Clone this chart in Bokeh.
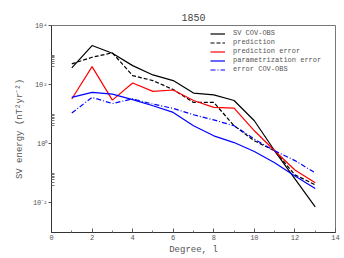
from bokeh.plotting import figure
from bokeh.models import Range1d, FixedTicker, CustomJSTickFormatter, Legend, LegendItem
from bokeh.embed import file_html
from bokeh.resources import INLINE

degree = [1, 2, 3, 4, 5, 6, 7, 8, 9, 10, 11, 12, 13]
sv_covobs = [368, 2100, 1150, 440, 213, 137, 52, 45, 29, 6.0, 0.58, 0.065, 0.0073]
prediction = [503, 842, 1190, 202, 137, 68, 25, 25, 4.1, 1.26, 0.58, 0.089, 0.041]
prediction_error = [32.7, 407, 30, 114, 59, 66, 29, 17, 16, 2.75, 0.58, 0.13, 0.048]
param_error = [37, 55, 48, 31, 19.4, 11.5, 4.07, 1.86, 1.1, 0.55, 0.23, 0.082, 0.031]
error_covobs = [11, 37, 23, 33, 22, 15.7, 9.6, 6.4, 4.07, 1.44, 0.58, 0.27, 0.104]

x_ticks = [0, 2, 4, 6, 8, 10, 12, 14]
y_ticks = [1e-2, 1, 1e2, 1e4]

FONT = "Liberation Mono"

p = figure(width=344, height=258, output_backend="svg", toolbar_location=None,
           x_range=Range1d(0, 14), y_range=Range1d(1e-3, 1e4), y_axis_type="log",
           title="1850", min_border_left=51, min_border_right=9,
           min_border_top=25, min_border_bottom=26)

p.title.align = "center"
p.title.text_font = FONT
p.title.text_font_size = "10px"
p.title.text_font_style = "normal"
p.title.text_color = "#444444"

p.xgrid.visible = False
p.ygrid.visible = False
p.outline_line_color = "#777777"
p.background_fill_color = "white"

minor = []
for e in [-2, 0, 2]:
    for k in [4, 5, 6, 7, 8, 9, 10]:
        minor.append(k * 10.0 ** e)

p.xaxis.ticker = FixedTicker(ticks=x_ticks, minor_ticks=[1, 3, 5, 7, 9, 11, 13])
p.yaxis.ticker = FixedTicker(ticks=y_ticks, minor_ticks=minor)
p.yaxis.formatter = CustomJSTickFormatter(code="""
const sup = {'-':'\u207b','0':'\u2070','1':'\u00b9','2':'\u00b2','3':'\u00b3','4':'\u2074'};
const e = Math.round(Math.log10(tick)).toString();
let s = '';
for (const c of e) s += sup[c];
return '10' + s;
""")

for ax in [p.xaxis[0], p.yaxis[0]]:
    ax.axis_line_color = "#333333"
    ax.major_tick_line_color = "#555555"
    ax.minor_tick_line_color = "#777777"
    ax.major_label_text_font = FONT
    ax.major_label_text_font_size = "7px"
    ax.major_label_text_color = "#555555"
    ax.axis_label_text_font = FONT
    ax.axis_label_text_font_size = "9px"
    ax.axis_label_text_font_style = "normal"
    ax.axis_label_text_color = "#555555"

p.xaxis.major_tick_in = 4
p.xaxis.major_tick_out = 0
p.xaxis.minor_tick_in = 2
p.xaxis.minor_tick_out = 0
p.xaxis.major_label_standoff = 2
p.xaxis.axis_label = "Degree, l"
p.xaxis.axis_label_standoff = 2

p.yaxis.major_tick_in = 0
p.yaxis.major_tick_out = 3
p.yaxis.minor_tick_in = 3
p.yaxis.minor_tick_out = 0
p.yaxis.major_label_standoff = 1
p.yaxis.axis_label = "SV energy (nT\u00b2yr\u207b\u00b2)"
p.yaxis.axis_label_standoff = 5

lw = 1.2
r1 = p.line(degree, sv_covobs, line_color="black", line_width=lw)
r2 = p.line(degree, prediction, line_color="black", line_width=lw, line_dash="4 2")
r3 = p.line(degree, prediction_error, line_color="red", line_width=lw)
r4 = p.line(degree, param_error, line_color="blue", line_width=lw)
r5 = p.line(degree, error_covobs, line_color="blue", line_width=lw, line_dash="5 2 1 2")

legend = Legend(items=[
    LegendItem(label="SV COV-OBS", renderers=[r1]),
    LegendItem(label="prediction", renderers=[r2]),
    LegendItem(label="prediction error", renderers=[r3]),
    LegendItem(label="parametrization error", renderers=[r4]),
    LegendItem(label="error COV-OBS", renderers=[r5]),
], location=(159, 159))
legend.label_text_font = FONT
legend.label_text_font_size = "7px"
legend.label_text_color = "#555555"
legend.label_height = 7
legend.glyph_height = 7
legend.glyph_width = 15
legend.label_standoff = 8
legend.spacing = 1
legend.padding = 2
legend.margin = 0
legend.border_line_color = None
legend.background_fill_alpha = 0
p.add_layout(legend, "center")

open("out.html", "w").write(file_html(p, INLINE))
